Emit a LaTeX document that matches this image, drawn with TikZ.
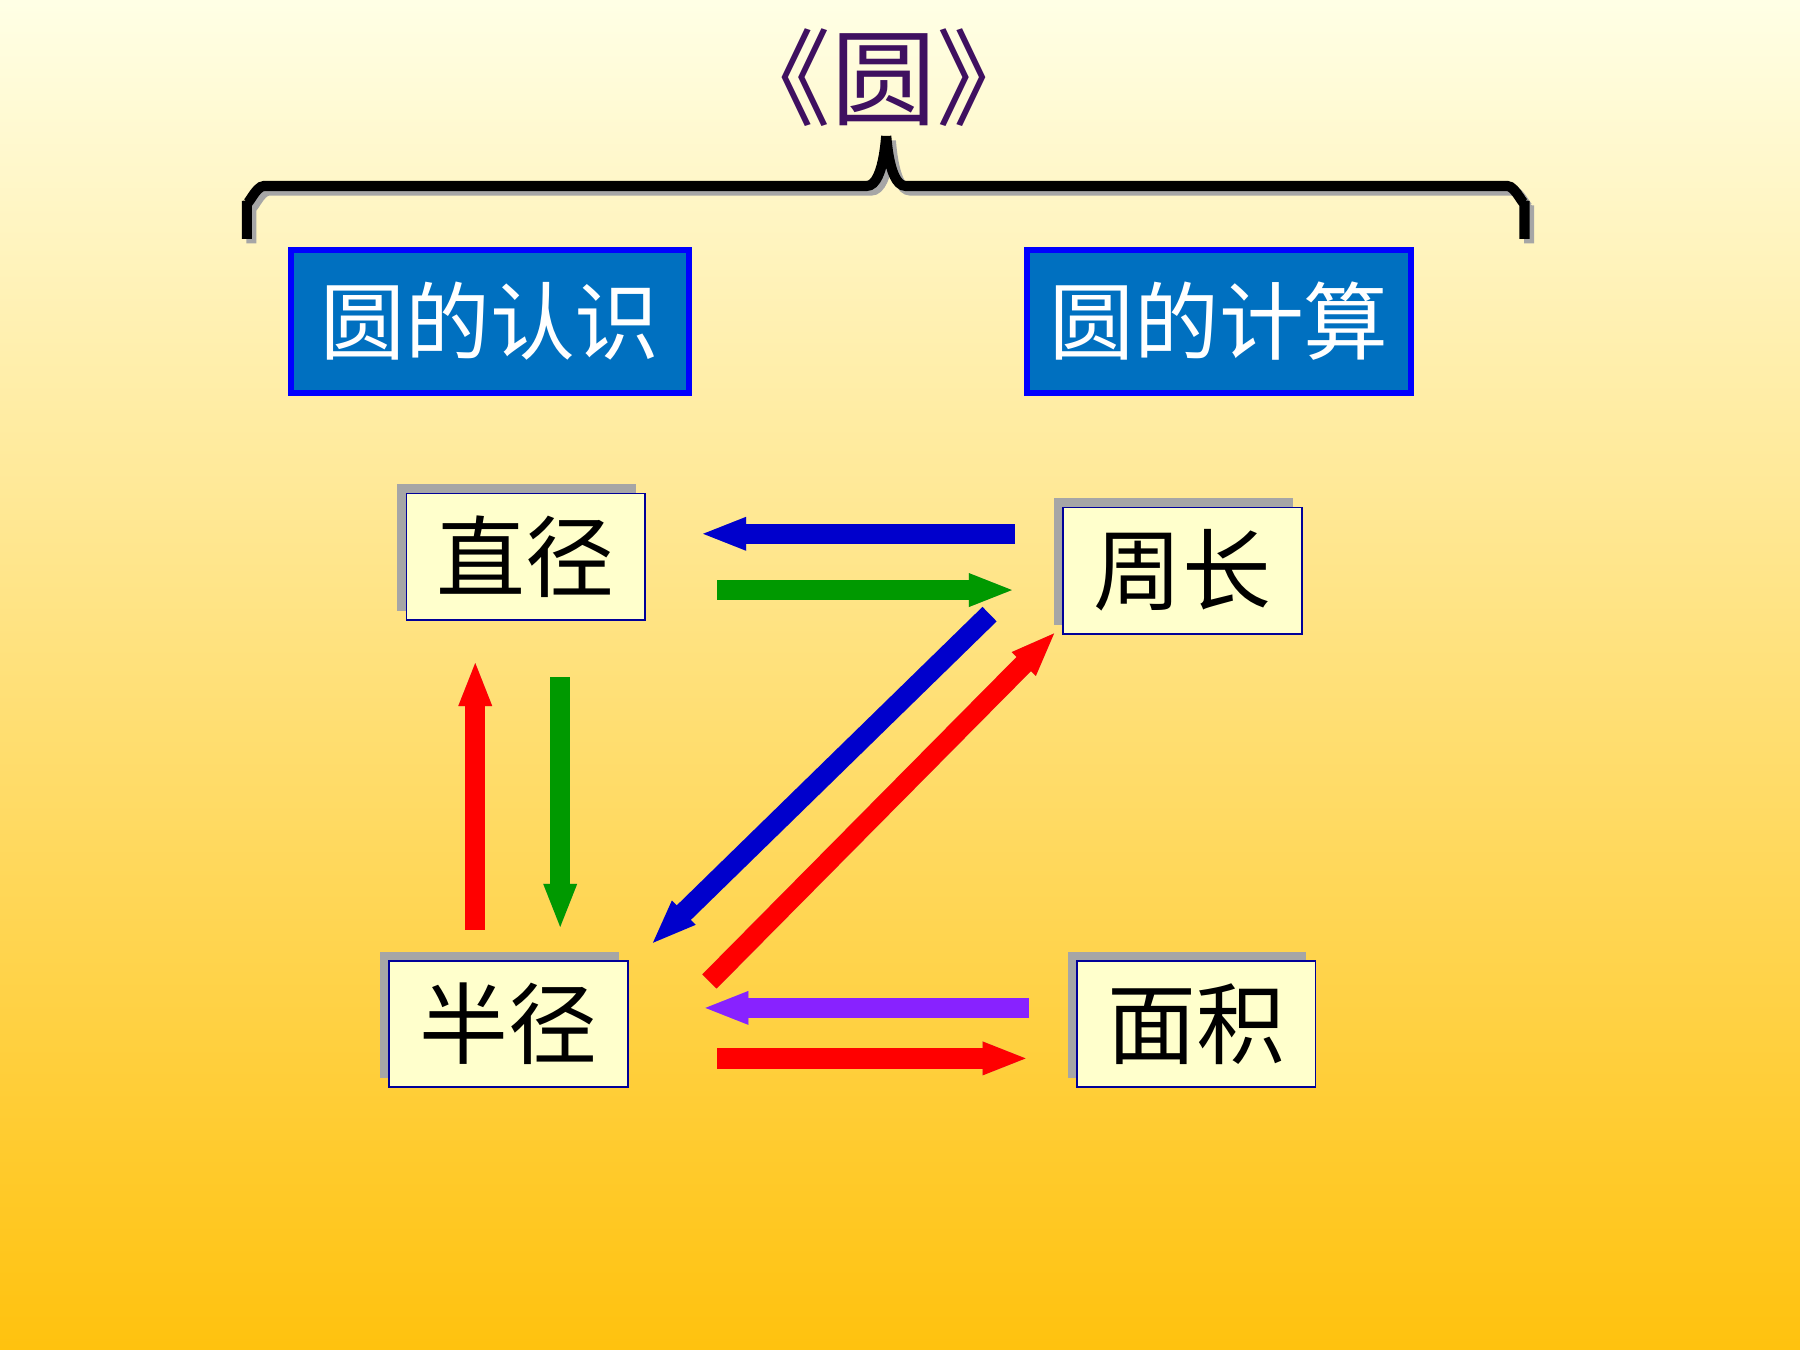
\documentclass[tikz,border=0pt]{standalone}
\usepackage{fontspec}
\newfontfamily\cjk{Noto Sans CJK SC}
\usetikzlibrary{arrows.meta, positioning}
\definecolor{boxblue}{HTML}{0070C0}
\definecolor{paleyellow}{HTML}{FFFFCC}
\definecolor{titlepurple}{HTML}{3F1060}
\definecolor{arrowgreen}{HTML}{009900}
\definecolor{arrowblue}{HTML}{0000CC}
\definecolor{arrowpurple}{HTML}{8822FF}
\definecolor{bgbottom}{HTML}{FFC20E}
\definecolor{arrowshade}{HTML}{B0A890}

\begin{document}
\begin{tikzpicture}[x=0.01cm, y=-0.01cm,
    topic/.style={draw=blue, line width=1.5pt, fill=boxblue, text=white, font=\cjk\fontsize{21}{24}\selectfont, minimum width=3.46cm, minimum height=1.24cm},
    term/.style={draw=blue!60!black, fill=paleyellow, font=\cjk\fontsize{22}{26}\selectfont, minimum width=2.08cm, minimum height=1.1cm},
    termshadow/.style={fill=black!35, minimum width=2.08cm, minimum height=1.1cm},
    flow/.style={line width=5pt, -{Triangle[length=0.4cm, width=0.26cm]}}
]
    % background
    \fill[top color=white!90!yellow, bottom color=bgbottom] (0,0) rectangle (1568,1176);
    \useasboundingbox (0,0) rectangle (1568,1176);

    % title and brace
    \node[font=\cjk\fontsize{26}{30}\selectfont, text=titlepurple] (title) at (770,68) {《圆》};
    \draw[black!35, line width=2.5pt, shift={(4,4)}] (215,208) -- (215,175) to[out=-90,in=180] (230,162) -- (755,162) to[out=0,in=90] (772,122) to[out=90,in=180] (789,162) -- (1313,162) to[out=0,in=-90] (1328,175) -- (1328,208);
    \draw[black, line width=2.5pt] (215,208) -- (215,175) to[out=-90,in=180] (230,162) -- (755,162) to[out=0,in=90] (772,122) to[out=90,in=180] (789,162) -- (1313,162) to[out=0,in=-90] (1328,175) -- (1328,208);

    % topics
    \node[topic] (know) at (427,280) {圆的认识};
    \node[topic, minimum width=3.34cm] (calc) at (1062,280) {圆的计算};

    % terms
    \foreach \name/\px/\py/\txt in {diam/458/485/直径, circ/1030/497/周长, rad/443/892/半径, area/1042/892/面积} {
        \node[termshadow] at (\px-8,\py-8) {};
        \node[term] (\name) at (\px,\py) {\txt};
    }

    % connector end points
    \coordinate (a1) at (884,465); \coordinate (b1) at (610,465);
    \coordinate (a2) at (625,514); \coordinate (b2) at (884,514);
    \coordinate (a3) at (414,810); \coordinate (b3) at (414,575);
    \coordinate (a4) at (488,590); \coordinate (b4) at (488,810);
    \coordinate (a5) at (862,535); \coordinate (b5) at (567,823);
    \coordinate (a6) at (618,855); \coordinate (b6) at (920,550);
    \coordinate (a7) at (896,878); \coordinate (b7) at (612,878);
    \coordinate (a8) at (625,922); \coordinate (b8) at (896,922);

    % arrows
    \foreach \i/\col in {1/arrowblue, 2/arrowgreen, 3/red, 4/arrowgreen, 5/arrowblue, 6/red, 7/arrowpurple, 8/red} {
        \draw[flow, arrowshade, shift={(-10,-10)}] (a\i) -- (b\i);
        \draw[flow, \col] (a\i) -- (b\i);
    }
\end{tikzpicture}
\end{document}
